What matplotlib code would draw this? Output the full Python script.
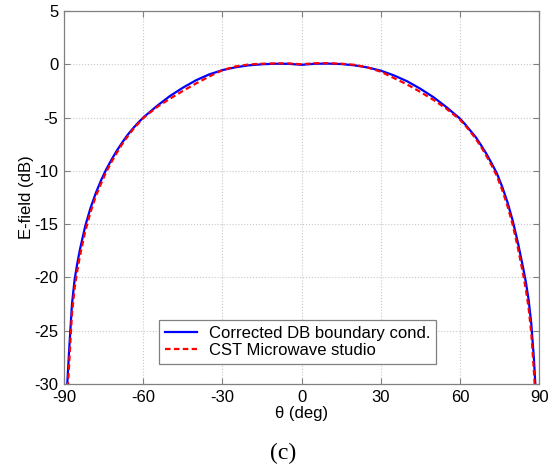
import numpy as np
import matplotlib
matplotlib.use('Agg')
import matplotlib.pyplot as plt

# Datos
theta = [-89.5, -89, -88.5, -88, -87, -86, -85, -84, -82, -80, -78, -76, -74, -72, -70, -68, -66, -64, -62,
         -60, -55, -50, -45, -40, -35, -30, -25, -20, -15, -10, -5, 0,
         5, 10, 15, 20, 25, 30, 35, 40, 45, 50, 55, 60,
         62, 64, 66, 68, 70, 72, 74, 76, 78, 80, 82, 84, 85, 86, 87, 88, 88.5, 89]

corregido = [-35.0, -31.0, -28.7, -26.5, -22.5, -20.2, -18.7, -17.4, -15.2, -13.5, -12.1, -10.9, -9.85, -8.95, -8.1, -7.35, -6.65, -6.05, -5.5,
             -5.0, -3.95, -3.0, -2.2, -1.5, -0.95, -0.55, -0.28, -0.1, 0.0, 0.05, 0.04, -0.05,
             0.05, 0.06, 0.02, -0.1, -0.3, -0.6, -1.05, -1.6, -2.3, -3.1, -4.05, -5.1,
             -5.65, -6.25, -6.85, -7.6, -8.4, -9.3, -10.25, -11.5, -12.95, -14.7, -16.8, -19.2, -20.5, -22.1, -24.3, -27.6, -29.8, -32.5]

cst = [-37.0, -33.0, -30.0, -27.8, -23.4, -21.0, -19.4, -18.0, -15.7, -13.9, -12.4, -11.2, -10.1, -9.15, -8.3, -7.5, -6.8, -6.15, -5.6,
       -5.05, -4.05, -3.25, -2.5, -1.8, -1.15, -0.55, -0.2, -0.02, 0.05, 0.08, 0.08, 0.0,
       0.1, 0.1, 0.05, -0.05, -0.3, -0.7, -1.3, -1.9, -2.6, -3.35, -4.2, -5.2,
       -5.75, -6.35, -7.0, -7.75, -8.6, -9.5, -10.5, -11.8, -13.3, -15.1, -17.3, -19.8, -21.2, -22.9, -25.2, -28.8, -31.0, -34.0]

xticks = [-90, -60, -30, 0, 30, 60, 90]
yticks = [-30, -25, -20, -15, -10, -5, 0, 5]

plt.rcParams['font.family'] = ['Liberation Sans', 'DejaVu Sans']
plt.rcParams['axes.unicode_minus'] = False

fig = plt.figure(figsize=(5.57, 4.71), dpi=100)
ax = fig.add_axes([0.115, 0.1847, 0.853, 0.792])

ax.plot(theta, corregido, color='#0000ff', lw=1.6, label='Corrected DB boundary cond.')
ax.plot(theta, cst, color='#ff0000', lw=1.6, dashes=(2.5, 1.5), label='CST Microwave studio')

ax.set_xlim(-90, 90)
ax.set_ylim(-30, 5)
ax.set_xticks(xticks)
ax.set_yticks(yticks)
ax.tick_params(direction='in', top=True, right=True, length=4, labelsize=12,
               color='#808080', pad=4)
for s in ax.spines.values():
    s.set_color('#808080')
    s.set_linewidth(0.9)
ax.grid(True, linestyle=':', color='#c8c8c8', linewidth=0.8)

ax.set_xlabel('\u03b8 (deg)', fontsize=12, labelpad=1)
ax.set_ylabel('E-field (dB)', fontsize=12, labelpad=0)

leg = ax.legend(loc='lower left', bbox_to_anchor=(0.2, 0.054), borderaxespad=0,
                fontsize=12, fancybox=False, framealpha=1, edgecolor='#808080',
                handlelength=1.9, handletextpad=0.75, labelspacing=0.15, borderpad=0.35)
leg.get_frame().set_linewidth(0.9)

fig.text(0.508, 0.038, '(c)', ha='center', va='center', fontsize=17,
         family='Liberation Serif')

plt.savefig('out.png', dpi=100)
